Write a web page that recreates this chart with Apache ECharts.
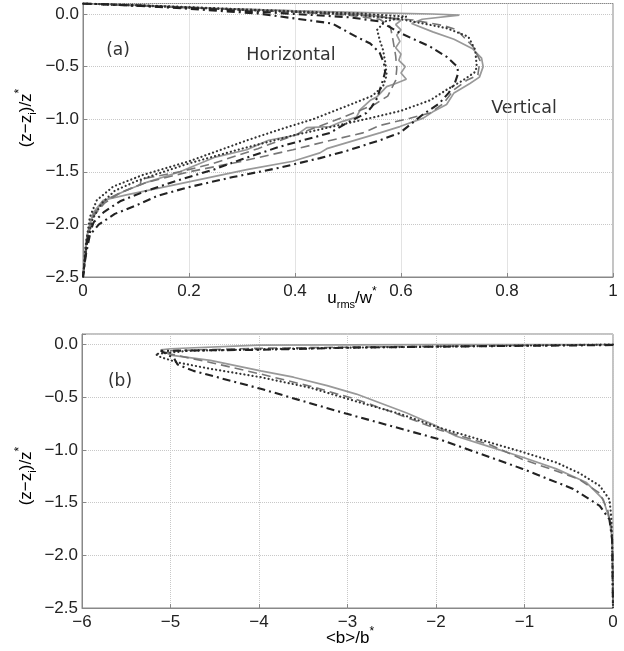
<!DOCTYPE html>
<html>
<head>
<meta charset="utf-8">
<script src="https://cdn.jsdelivr.net/npm/echarts@6/dist/echarts.min.js"></script>
<style>
  html, body { margin: 0; padding: 0; background: #fff; }
  #chart { width: 624px; height: 651px; }
</style>
</head>
<body>
<div id="chart"></div>
<script>
// panel (a): rms velocity profiles, [u_rms/w*, (z-zi)/z*]
const hDotted = [[0,0.1],[0.1,0.085],[0.25,0.055],[0.4,0.025],[0.52,0.005],[0.61,-0.025],[0.57,-0.07],[0.555,-0.15],[0.56,-0.25],[0.566,-0.34],[0.57,-0.45],[0.573,-0.58],[0.566,-0.69],[0.545,-0.78],[0.5,-0.87],[0.434,-1.0],[0.37,-1.1],[0.31,-1.2],[0.2,-1.4],[0.113,-1.53],[0.057,-1.64],[0.026,-1.77],[0.013,-1.93],[0.005,-2.2],[0,-2.5]];
const vDotted = [[0,0.1],[0.1,0.08],[0.25,0.05],[0.4,0.02],[0.52,-0.01],[0.6,-0.05],[0.642,-0.09],[0.686,-0.135],[0.727,-0.215],[0.74,-0.34],[0.743,-0.5],[0.74,-0.55],[0.717,-0.63],[0.686,-0.72],[0.655,-0.82],[0.6,-0.92],[0.55,-0.98],[0.48,-1.06],[0.4,-1.15],[0.3,-1.28],[0.2,-1.42],[0.14,-1.52],[0.1,-1.59],[0.06,-1.68],[0.035,-1.8],[0.018,-1.95],[0.008,-2.15],[0,-2.5]];
const hDashed = [[0,0.1],[0.1,0.08],[0.25,0.05],[0.4,0.02],[0.5,-0.01],[0.56,-0.05],[0.58,-0.12],[0.585,-0.25],[0.59,-0.4],[0.592,-0.52],[0.59,-0.63],[0.575,-0.78],[0.55,-0.86],[0.516,-0.93],[0.466,-1.03],[0.4,-1.15],[0.33,-1.28],[0.246,-1.42],[0.183,-1.5],[0.13,-1.55],[0.11,-1.57],[0.108,-1.62],[0.07,-1.7],[0.04,-1.78],[0.02,-1.9],[0.008,-2.1],[0,-2.5]];
const vDashed = [[0,0.1],[0.1,0.08],[0.25,0.05],[0.4,0.02],[0.52,-0.01],[0.623,-0.057],[0.68,-0.11],[0.705,-0.15],[0.736,-0.31],[0.749,-0.44],[0.745,-0.58],[0.724,-0.63],[0.7,-0.72],[0.68,-0.85],[0.655,-0.94],[0.617,-0.99],[0.56,-1.06],[0.528,-1.13],[0.46,-1.21],[0.396,-1.29],[0.3,-1.4],[0.2,-1.5],[0.12,-1.6],[0.07,-1.7],[0.04,-1.8],[0.02,-1.92],[0.008,-2.15],[0,-2.5]];
const hDashDot = [[0,0.1],[0.1,0.08],[0.2,0.05],[0.33,0.005],[0.47,-0.09],[0.517,-0.22],[0.542,-0.28],[0.56,-0.37],[0.568,-0.47],[0.57,-0.55],[0.566,-0.63],[0.56,-0.72],[0.555,-0.8],[0.545,-0.88],[0.535,-0.94],[0.5,-1.03],[0.466,-1.13],[0.372,-1.26],[0.3,-1.38],[0.246,-1.48],[0.18,-1.58],[0.12,-1.68],[0.07,-1.78],[0.04,-1.88],[0.02,-1.98],[0.008,-2.15],[0,-2.5]];
const vDashDot = [[0,0.1],[0.1,0.08],[0.25,0.045],[0.4,0.0],[0.5,-0.03],[0.56,-0.07],[0.598,-0.18],[0.655,-0.31],[0.687,-0.41],[0.706,-0.5],[0.708,-0.56],[0.702,-0.65],[0.69,-0.75],[0.672,-0.85],[0.64,-0.96],[0.598,-1.13],[0.56,-1.2],[0.498,-1.3],[0.447,-1.37],[0.372,-1.46],[0.283,-1.55],[0.196,-1.65],[0.14,-1.73],[0.1,-1.82],[0.06,-1.9],[0.03,-2.0],[0.013,-2.1],[0.005,-2.3],[0,-2.5]];
const hSolid = [[0,0.1],[0.1,0.085],[0.25,0.055],[0.4,0.03],[0.5,0.01],[0.56,-0.02],[0.6,-0.06],[0.59,-0.1],[0.6,-0.15],[0.592,-0.2],[0.598,-0.26],[0.59,-0.32],[0.6,-0.38],[0.596,-0.44],[0.608,-0.5],[0.6,-0.56],[0.61,-0.62],[0.59,-0.66],[0.573,-0.69],[0.554,-0.79],[0.542,-0.82],[0.523,-0.91],[0.516,-0.98],[0.49,-1.02],[0.466,-1.07],[0.422,-1.08],[0.403,-1.15],[0.35,-1.2],[0.309,-1.29],[0.25,-1.36],[0.183,-1.5],[0.12,-1.6],[0.08,-1.68],[0.05,-1.75],[0.03,-1.83],[0.015,-1.95],[0.006,-2.15],[0,-2.5]];
const vSolid = [[0,0.1],[0.1,0.085],[0.25,0.055],[0.4,0.03],[0.55,0.01],[0.66,0.0],[0.71,-0.01],[0.64,-0.05],[0.62,-0.09],[0.66,-0.17],[0.7,-0.24],[0.735,-0.33],[0.752,-0.42],[0.755,-0.5],[0.748,-0.6],[0.73,-0.66],[0.7,-0.75],[0.686,-0.86],[0.66,-0.93],[0.642,-0.99],[0.598,-1.07],[0.56,-1.13],[0.46,-1.28],[0.447,-1.32],[0.396,-1.4],[0.309,-1.48],[0.271,-1.52],[0.177,-1.62],[0.082,-1.72],[0.038,-1.77],[0.019,-1.89],[0.008,-2.1],[0,-2.5]];

// panel (b): buoyancy profiles, [<b>/b*, (z-zi)/z*]
const bDotted = [[0,0.0],[-1,-0.01],[-2,-0.02],[-3,-0.03],[-4,-0.045],[-4.8,-0.06],[-5.17,-0.09],[-5.11,-0.12],[-4.92,-0.17],[-4.55,-0.23],[-3.98,-0.31],[-3.42,-0.41],[-2.86,-0.55],[-2.4,-0.66],[-1.96,-0.79],[-1.39,-0.93],[-1.02,-1.02],[-0.64,-1.12],[-0.38,-1.22],[-0.15,-1.34],[-0.04,-1.47],[-0.02,-1.63],[-0.01,-1.85],[0,-2.5]];
const bDashed = [[0,0.0],[-1,-0.008],[-2,-0.016],[-3,-0.025],[-4,-0.035],[-4.7,-0.05],[-5.05,-0.06],[-5.0,-0.09],[-4.55,-0.17],[-3.98,-0.28],[-3.4,-0.4],[-2.9,-0.52],[-2.4,-0.67],[-1.96,-0.81],[-1.39,-0.95],[-1.02,-1.09],[-0.64,-1.2],[-0.38,-1.28],[-0.15,-1.41],[-0.06,-1.57],[-0.02,-1.73],[0,-2.0],[0,-2.5]];
const bDashDot = [[0,-0.005],[-1,-0.012],[-2,-0.02],[-3,-0.03],[-3.98,-0.05],[-4.6,-0.055],[-5.11,-0.06],[-4.96,-0.13],[-4.92,-0.19],[-4.74,-0.25],[-3.98,-0.42],[-3.08,-0.64],[-1.96,-0.9],[-1.02,-1.18],[-0.45,-1.37],[-0.15,-1.53],[-0.04,-1.66],[-0.01,-1.85],[0,-2.5]];
const bSolid = [[0,0.0],[-2,0.0],[-4,-0.005],[-5.0,-0.04],[-5.11,-0.05],[-5.0,-0.1],[-4.55,-0.15],[-3.98,-0.25],[-3.61,-0.31],[-3.23,-0.39],[-2.9,-0.47],[-2.33,-0.65],[-2.03,-0.76],[-1.77,-0.87],[-1.47,-0.95],[-1.02,-1.07],[-0.64,-1.18],[-0.3,-1.31],[-0.11,-1.47],[-0.04,-1.66],[-0.01,-1.85],[0,-2.5]];

const yTicks = { min: -2.5, max: 0.1, interval: 0.5 };
const xTicksA = { min: 0, max: 1, interval: 0.2 };
const xTicksB = { min: -6, max: 0, interval: 1 };

const FONT = "Liberation Sans";
const minus = s => String(s).replace(/-/g, "\u2212");

const dotted = { color: "#333", width: 2.2, type: [0.1, 4], cap: "round" };
const dashed = { color: "#777", width: 1.6, type: [9, 5] };
const dashDot = { color: "#222", width: 2.1, type: [8, 4, 2, 4] };
const solid = { color: "#999", width: 1.7 };

function line(data, idx, style) {
  return {
    type: "line",
    data: data,
    xAxisIndex: idx,
    yAxisIndex: idx,
    symbol: "none",
    lineStyle: style,
    clip: true,
  };
}

function xAxis(idx, t, fmt) {
  return {
    type: "value",
    gridIndex: idx,
    min: t.min,
    max: t.max,
    interval: t.interval,
    axisLine: { show: true, onZero: false, lineStyle: { color: "#888" } },
    axisTick: { inside: true, length: 4, lineStyle: { color: "#888" } },
    splitLine: { show: true, lineStyle: { color: "#c8c8c8", type: "dotted" } },
    axisLabel: { color: "#222", fontSize: 17, fontFamily: FONT, margin: 6, formatter: fmt },
  };
}

function yAxis(idx) {
  return {
    type: "value",
    gridIndex: idx,
    min: yTicks.min,
    max: yTicks.max,
    interval: yTicks.interval,
    axisLine: { show: true, onZero: false, lineStyle: { color: "#888" } },
    axisTick: { inside: true, length: 4, lineStyle: { color: "#888" } },
    splitLine: { show: true, lineStyle: { color: "#c8c8c8", type: "dotted" } },
    axisLabel: {
      color: "#222", fontSize: 17, fontFamily: FONT, margin: 4,
      formatter: v => (v > 0.05 ? "" : minus(v.toFixed(1))),
    },
  };
}

const rich = {
  a: { fontSize: 17, fontFamily: FONT, color: "#222", lineHeight: 24, verticalAlign: "middle" },
  s: { fontSize: 11, fontFamily: FONT, color: "#222", lineHeight: 13, verticalAlign: "bottom" },
  p: { fontSize: 12, fontFamily: FONT, color: "#222", lineHeight: 13, verticalAlign: "top" },
};

function label(x, y, text, rot) {
  return {
    type: "text", x: x, y: y, rotation: rot || 0,
    style: { text: text, rich: rich, align: "center", verticalAlign: "middle" },
  };
}

function note(x, y, text, size) {
  return {
    type: "text", x: x, y: y,
    style: { text: text, fill: "#333", fontSize: size, fontFamily: "DejaVu Sans", align: "center", verticalAlign: "middle" },
  };
}

const chart = echarts.init(document.getElementById("chart"));
chart.setOption({
  animation: false,
  backgroundColor: "#fff",
  grid: [
    { left: 83, right: 11, top: 3.5, height: 273.5, show: true, borderColor: "#888", borderWidth: 1 },
    { left: 82, right: 11, top: 334, height: 274, show: true, borderColor: "#888", borderWidth: 1 },
  ],
  xAxis: [xAxis(0, xTicksA), xAxis(1, xTicksB, v => minus(v))],
  yAxis: [yAxis(0), yAxis(1)],
  series: [
    line(hSolid, 0, solid), line(vSolid, 0, solid),
    line(hDashed, 0, dashed), line(vDashed, 0, dashed),
    line(hDotted, 0, dotted), line(vDotted, 0, dotted),
    line(hDashDot, 0, dashDot), line(vDashDot, 0, dashDot),
    line(bSolid, 1, solid), line(bDashed, 1, dashed),
    line(bDotted, 1, dotted), line(bDashDot, 1, dashDot),
  ],
  graphic: [
    note(118, 51, "(a)", 17),
    note(291, 55, "Horizontal", 17.5),
    note(524, 108, "Vertical", 17.5),
    note(120, 382, "(b)", 17),
    label(352, 298, "{a|u}{s|rms}{a|/w}{p|*}"),
    label(350, 638, "{a|<b>/b}{p|*}"),
    label(26, 118, "{a|(z\u2212z}{s|i}{a|)/z}{p|*}", Math.PI / 2),
    label(26, 476, "{a|(z\u2212z}{s|i}{a|)/z}{p|*}", Math.PI / 2),
  ],
});
</script>
</body>
</html>
